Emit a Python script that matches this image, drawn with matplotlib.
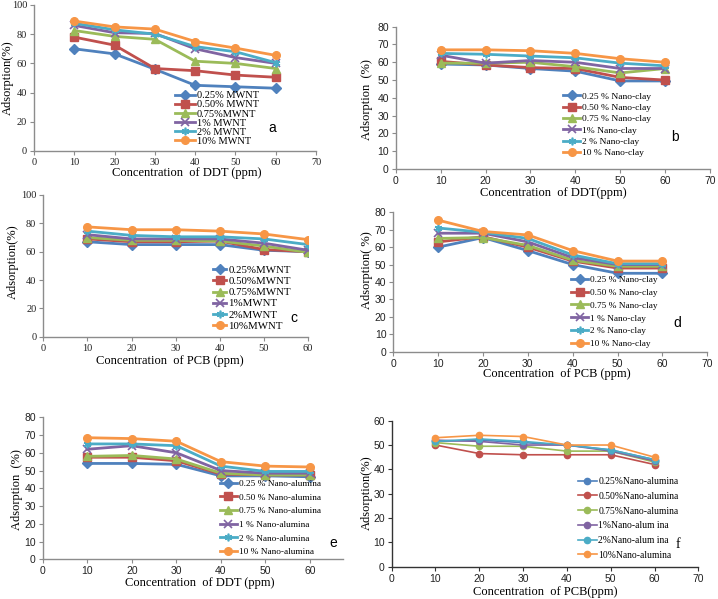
import matplotlib
matplotlib.use('Agg')
import matplotlib.pyplot as plt

W, H = 718, 599
conc = [10, 20, 30, 40, 50, 60]

colors = ['#4F81BD', '#C0504D', '#9BBB59', '#8064A2', '#4BACC6', '#F79646']
markers = ['D', 's', '^', 'x', (6, 2, 0), 'o']

# (a) DDT on MWNT
a_labels = ['0.25% MWNT', '0.50% MWNT', '0.75%MWNT', '1% MWNT', '2% MWNT', '10% MWNT']
a_vals = [
    [70, 66.5, 56, 45, 44, 43],
    [78, 72.5, 56.5, 55, 52, 50.5],
    [82.5, 78.5, 76.5, 61.5, 60, 56.5],
    [86, 81, 80.5, 70, 64, 60],
    [87.5, 83, 80, 71.5, 68, 60.5],
    [89, 85, 83.5, 75, 70.5, 65.5],
]
# (b) DDT on nano-clay
b_labels = ['0.25 % Nano-clay', '0.50 % Nano-clay', '0.75 % Nano-clay',
            '1% Nano-clay', '2 % Nano-clay', '10 % Nano-clay']
b_vals = [
    [59, 58.5, 56.5, 55, 49.5, 49.5],
    [60.5, 58.5, 57, 56.5, 51.5, 50],
    [59.5, 59.5, 60, 57.5, 54, 56.5],
    [64, 59.5, 61, 60, 56.5, 56.5],
    [65, 64.5, 63.5, 62.5, 59.5, 58],
    [67, 67, 66.5, 65, 62, 60],
]
# (c) PCB on MWNT
c_labels = ['0.25%MWNT', '0.50%MWNT', '0.75%MWNT', '1%MWNT', '2%MWNT', '10%MWNT']
c_vals = [
    [67, 65, 65, 65, 61, 60],
    [69, 67, 67, 67.5, 61.5, 60],
    [70, 68, 68, 67.5, 64, 59.5],
    [72, 69, 69, 69, 66, 61],
    [74.5, 71.5, 70.5, 70.5, 69, 65],
    [77.5, 75.5, 75.5, 74.5, 72.5, 68.5],
]
# (d) PCB on nano-clay
d_labels = ['0.25 % Nano-clay', '0.50 % Nano-clay', '0.75 % Nano-clay',
            '1 % Nano-clay', '2 % Nano-clay', '10 % Nano-clay']
d_vals = [
    [60, 65.5, 58, 50, 45, 45],
    [63, 66, 60, 52, 48, 48],
    [65, 65.5, 61, 52.5, 49, 49],
    [68, 68, 63, 54, 50, 50],
    [71, 68.5, 65, 55.5, 50.5, 50.5],
    [75.5, 69, 67, 58, 52, 52],
]
# (e) DDT on nano-alumina
e_labels = ['0.25 % Nano-alumina', '0.50 % Nano-alumina', '0.75 % Nano-alumina',
            '1 % Nano-alumina', '2 % Nano-alumina', '10 % Nano-alumina']
e_vals = [
    [54, 54, 53.5, 47, 47, 46.5],
    [57.5, 57.5, 55.5, 48, 47.5, 47.5],
    [58, 58.5, 56.5, 48.5, 47.5, 47.5],
    [62, 64, 60, 50, 48.5, 48.5],
    [65, 65, 64, 52.5, 49.5, 49.5],
    [68.5, 68, 66.5, 55, 52.5, 52],
]
# (f) PCB on nano-alumina
f_labels = ['0.25%Nano-alumina', '0.50%Nano-alumina', '0.75%Nano-alumina',
            '1%Nano-alum ina', '2%Nano-alum ina', '10%Nano-alumina']
f_vals = [
    [51.5, 52, 51, 50, 48, 44],
    [50, 46.5, 46, 46, 46, 42],
    [51, 49.5, 49.5, 47.5, 47.5, 43],
    [52, 51.5, 50, 50, 47.5, 43.5],
    [51.5, 52.5, 51.5, 50, 48, 44],
    [53, 54, 53.5, 50, 50, 45],
]

SERIF = 'Liberation Serif'
SANS = 'Liberation Sans'

fig = plt.figure(figsize=(W / 100, H / 100), dpi=100)


def px_axes(x0, x1, ytop, ybot):
    return fig.add_axes([x0 / W, 1 - ybot / H, (x1 - x0) / W, (ybot - ytop) / H])


def ftext(x, y, s, **kw):
    fig.text(x / W, 1 - y / H, s, **kw)


def panel(box, vals, labels, xlim, xticks, ylim, yticks, tickfont,
          leg_xy, rowh, fs, hlen,
          letter, letter_xy, letterfont, ylabel, ylabel_xy, xlabel, xlabel_xy,
          thin=False):
    ax = px_axes(*box)
    for i, v in enumerate(vals):
        if thin:
            ax.plot(conc, v, color=colors[i], lw=1.2, marker='o', ms=4.5,
                    label=labels[i])
        else:
            m = markers[i]
            ax.plot(conc, v, color=colors[i], lw=2.0, marker=m, ms=5.5,
                    mew=1.2 if m in ('x', (6, 2, 0)) else 1.0,
                    label=labels[i])
    ax.set_xlim(*xlim)
    ax.set_ylim(*ylim)
    ax.set_xticks(xticks)
    ax.set_yticks(yticks)
    for s in ('top', 'right'):
        ax.spines[s].set_visible(False)
    sc = '#333333' if thin else '#8c8c8c'
    for s in ('left', 'bottom'):
        ax.spines[s].set_color(sc)
        ax.spines[s].set_linewidth(1.0)
    ax.tick_params(length=3, width=0.8, color=sc, labelsize=7.5, pad=2,
                   labelcolor='#222222')
    for t in ax.get_xticklabels() + ax.get_yticklabels():
        t.set_fontfamily(tickfont)
    fig.legend(loc='upper left',
               bbox_to_anchor=(leg_xy[0] / W, 1 - leg_xy[1] / H),
               frameon=False, borderpad=0, borderaxespad=0,
               handlelength=hlen, handletextpad=0.2, markerscale=1.0,
               labelspacing=(rowh - fs * 1.39) / (fs * 1.39) + 0.1,
               prop={'family': SERIF, 'size': fs},
               handles=ax.get_lines())
    ftext(letter_xy[0], letter_xy[1], letter, family=letterfont, fontsize=10,
          ha='center', va='center')
    ftext(ylabel_xy[0], ylabel_xy[1], ylabel, family=SERIF, fontsize=9,
          rotation=90, ha='center', va='center')
    ftext(xlabel_xy[0], xlabel_xy[1], xlabel, family=SERIF, fontsize=9,
          ha='center', va='center')
    return ax


panel((34, 316, 5, 151), a_vals, a_labels, (0, 70), range(0, 71, 10),
      (0, 100), range(0, 101, 20), SERIF, (175, 91), 9.2, 7.5, 1.9,
      'a', (272, 128), SANS, 'Adsorption(%)', (8, 78),
      'Concentration  of DDT (ppm)', (187, 173))

panel((395.7, 710, 26.7, 169), b_vals, b_labels, (0, 70), range(0, 71, 10),
      (0, 80), range(0, 81, 10), SANS, (563, 92), 11.2, 6.8, 1.8,
      'b', (675, 137), SANS, 'Adsorption  (%)', (367, 100),
      'Concentration  of DDT(ppm)', (553, 193))

panel((43.3, 308, 195, 336.7), c_vals, c_labels, (0, 60), range(0, 61, 10),
      (0, 100), range(0, 101, 20), SERIF, (213, 265.5), 11.3, 7.8, 1.2,
      'c', (294, 318), SANS, 'Adsorption(%)', (13, 262),
      'Concentration  of PCB (ppm)', (170, 361))

panel((393.3, 707.3, 212.3, 351.7), d_vals, d_labels, (0, 70), range(0, 71, 10),
      (0, 80), range(0, 81, 10), SANS, (570.7, 275.5), 12.7, 6.7, 1.9,
      'd', (677, 323), SANS, 'Adsorption( %)', (367, 270),
      'Concentration  of PCB (ppm)', (557, 374))

panel((42.7, 343, 417.3, 559.3), e_vals, e_labels, (0, 67.4), range(0, 61, 10),
      (0, 80), range(0, 81, 10), SANS, (220, 479.5), 13.5, 6.7, 1.8,
      'e', (333, 543), SANS, 'Adsorption  (%)', (17, 490),
      'Concentration  of DDT (ppm)', (200, 583))

panel((391.7, 698.3, 420.7, 566.7), f_vals, f_labels, (0, 70), range(0, 71, 10),
      (0, 60), range(0, 61, 10), SANS, (578.3, 477), 14.4, 6.9, 1.9,
      'f', (678, 544), SERIF, 'Adsorption(%)', (367, 493),
      'Concentration  of PCB(ppm)', (545, 592), thin=True)

fig.savefig('out.png', dpi=100)
